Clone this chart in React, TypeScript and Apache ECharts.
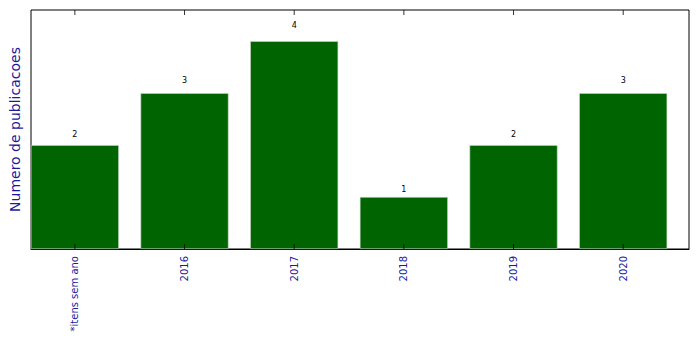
import React, { useEffect, useRef } from "react";
import * as echarts from "echarts";

const categories = ["*itens sem ano", "2016", "2017", "2018", "2019", "2020"];
const counts = [2, 3, 4, 1, 2, 3];
const positions = [0.4, 1.4, 2.4, 3.4, 4.4, 5.4];
const yMax = 4.6;

export default function App() {
  const ref = useRef<HTMLDivElement>(null);
  useEffect(() => {
    const chart = echarts.init(ref.current!, null, { renderer: "svg" });
    const plotH = 239;
    const pxPerUnit = plotH / yMax;
    const font = "DejaVu Sans";
    const labelFmt = (v: number) => {
      const i = positions.findIndex((p) => Math.abs(p - v) < 1e-6);
      return i >= 0 ? categories[i] : "";
    };
    chart.setOption({
      animation: false,
      grid: {
        left: 30,
        right: 10,
        top: 10,
        bottom: 100,
        show: true,
        borderColor: "#000",
        borderWidth: 1,
      },
      xAxis: {
        type: "value",
        min: 0,
        max: 6,
        position: "bottom",
        splitLine: { show: false },
        axisLine: { show: true, onZero: false, lineStyle: { color: "#000" } },
        axisTick: { show: false },
        axisLabel: {
          show: true,
          rotate: 90,
          margin: 7,
          customValues: positions.slice(),
          formatter: labelFmt,
          color: "#1a1a9e",
          fontFamily: font,
          fontSize: 10,
        },
      },
      yAxis: {
        type: "value",
        min: 0,
        max: yMax,
        name: "Numero de publicacoes",
        nameLocation: "middle",
        nameGap: 9,
        nameTextStyle: { color: "#1a1a9e", fontFamily: font, fontSize: 14 },
        splitLine: { show: false },
        axisLine: { show: false },
        axisTick: { show: false },
        axisLabel: { show: false },
      },
      series: [
        {
          type: "bar",
          barWidth: 88,
          z: 2,
          itemStyle: { color: "#006400", borderColor: "#c9d9c9", borderWidth: 0.6 },
          data: positions.map((p, i) => ({
            value: [p, counts[i]],
            label: {
              show: true,
              position: "top",
              distance: 0.05 * counts[i] * pxPerUnit + 1,
              formatter: String(counts[i]),
              color: "#000",
              fontFamily: font,
              fontSize: 8,
            },
          })),
        },
        {
          type: "scatter",
          z: 5,
          silent: true,
          clip: false,
          symbol: "rect",
          symbolSize: [1, 5],
          symbolOffset: [0, -2.5],
          itemStyle: { color: "#000" },
          data: positions.map((p) => [p, 0]),
        },
        {
          type: "scatter",
          z: 5,
          silent: true,
          clip: false,
          symbol: "rect",
          symbolSize: [1, 5],
          symbolOffset: [0, 2.5],
          itemStyle: { color: "#000" },
          data: positions.map((p) => [p, yMax]),
        },
      ],
    });
    return () => chart.dispose();
  }, []);
  return <div ref={ref} style={{ width: 699, height: 349, position: "absolute", left: 0, top: 0 }} />;
}
